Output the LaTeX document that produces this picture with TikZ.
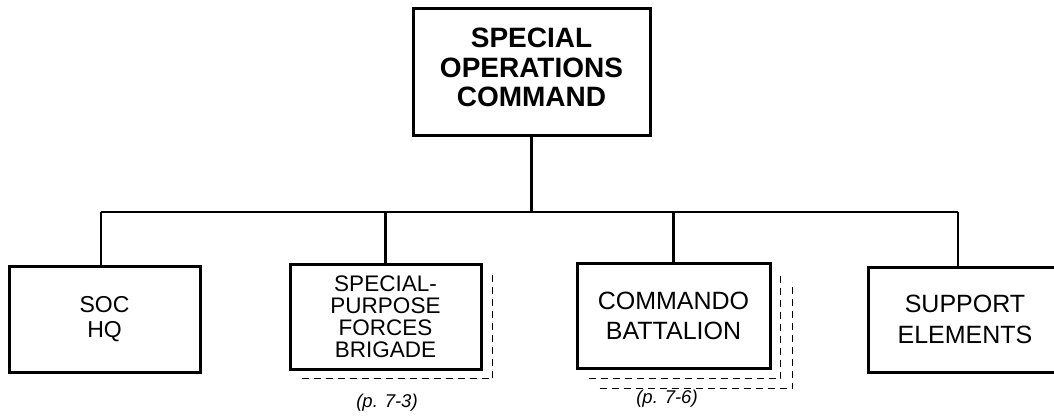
\documentclass[tikz,border=0pt]{standalone}
\usepackage{fontspec}
\setmainfont{Liberation Sans}
\begin{document}
\begin{tikzpicture}[x=1pt,y=-1pt,
  unitbox/.style={draw, line width=3pt, align=center, inner sep=0pt, fill=white},
  conn/.style={line width=2.4pt},
  shadowline/.style={line width=1.5pt, dash pattern=on 7pt off 5pt},
  pagelabel/.style={font=\itshape\fontsize{18.5}{20}\selectfont, inner sep=0pt}]
\useasboundingbox (0,0) rectangle (1054,418);
\clip (0,0) rectangle (1054,418);
% boxes with shadows
\node (b2) [unitbox, minimum width=191pt, minimum height=105pt,
  font=\fontsize{22.5}{22}\selectfont] at (385.5,316.5) {SPECIAL-\\PURPOSE\\FORCES\\BRIGADE};
\node (b3) [unitbox, minimum width=193pt, minimum height=105pt,
  font=\fontsize{25}{30}\selectfont] at (673.5,315.5) {COMMANDO\\BATTALION};
\draw[shadowline] ([shift={(13,8)}]b2.south west) -- ([shift={(10,8)}]b2.south east) -- ([shift={(10,9)}]b2.north east);
\draw[shadowline] ([shift={(13,9)}]b3.south west) -- ([shift={(9,9)}]b3.south east) -- ([shift={(9,10)}]b3.north east);
\draw[shadowline] ([shift={(24,19)}]b3.south west) -- ([shift={(21,19)}]b3.south east) -- ([shift={(21,20)}]b3.north east);
% other nodes
\node (top) [unitbox, minimum width=237pt, minimum height=127pt,
  font=\bfseries\fontsize{28}{29.5}\selectfont] at (531.5,71.5) {\raisebox{3pt}{\begin{tabular}{@{}c@{}}SPECIAL\\OPERATIONS\\COMMAND\end{tabular}}};
\node (b1) [unitbox, minimum width=191pt, minimum height=106pt,
  font=\fontsize{23}{25}\selectfont] at (104.5,319) {SOC\\HQ};
\node (b4) [unitbox, minimum width=194pt, minimum height=105pt,
  font=\fontsize{25}{31}\selectfont] at (965,319.5) {SUPPORT\\ELEMENTS};
\node (l2) [pagelabel] at (387,403) {(p. 7-3)};
\node (l3) [pagelabel] at (667,399) {(p. 7-6)};
% connectors
\coordinate (busL) at (101,212);
\coordinate (busR) at (958,212);
\draw[conn] (busL) -- (busR);
\draw[conn] (top.south) -- (top.south |- busL);
\draw[conn] (busL) -- (busL |- b1.north);
\draw[conn] (b2.north |- busL) -- (b2.north);
\draw[conn] (b3.north |- busL) -- (b3.north);
\draw[conn] (busR) -- (busR |- b4.north);
\end{tikzpicture}
\end{document}
